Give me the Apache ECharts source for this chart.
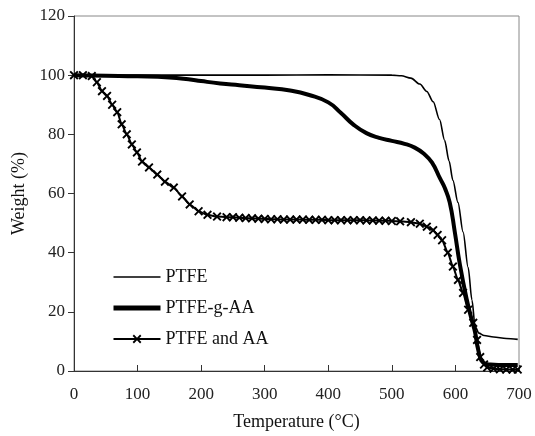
<!DOCTYPE html>
<html>
<head>
<meta charset="utf-8">
<title>TGA curves</title>
<script src="https://cdn.jsdelivr.net/npm/echarts@6/dist/echarts.min.js"></script>
<style>
  html, body { margin: 0; padding: 0; background: #fff; }
  #chart { width: 535px; height: 436px; }
</style>
</head>
<body>
<div id="chart"></div>
<script>
/* =========================================
   1. DATA
   ========================================= */
const xTicks = [0, 100, 200, 300, 400, 500, 600, 700];
const yTicks = [0, 20, 40, 60, 80, 100, 120];

// PTFE (thin line)
const ptfeTemp = [0, 100, 200, 300, 400, 500, 515, 530, 544, 555, 565, 575, 583, 590, 596, 604, 612, 620, 626, 631, 637, 645, 660, 680, 698];
const ptfeWeight = [100, 100, 100, 100, 100.1, 100, 99.8, 99, 97, 94.5, 91, 85, 78, 71, 64.5, 57, 47, 35, 24, 15, 12.8, 12, 11.5, 11, 10.7];

// PTFE-g-AA (thick line)
const graftTemp = [0, 50, 100, 150, 180, 200, 230, 260, 300, 340, 370, 400, 420, 440, 460, 480, 500, 520, 536, 550, 563, 576, 583, 591, 599, 607, 618, 626, 631, 636, 643, 655, 680, 698];
const graftWeight = [100, 99.8, 99.6, 99.2, 98.6, 98, 97.2, 96.6, 95.8, 94.8, 93.3, 90.8, 87.2, 83.2, 80.4, 78.8, 77.8, 76.8, 75.5, 73.5, 70.5, 65, 62, 57, 47, 36, 24, 17, 13, 7, 3, 2.2, 2, 2];

// PTFE and AA (line with x markers)
const mixTemp = [0, 14, 28, 36, 44, 52, 60, 68, 75, 83, 91, 99, 107, 118, 131, 143, 157, 170, 182, 196, 210, 225,
  240, 250, 260, 270, 280, 290, 300, 310, 320, 330, 340, 350, 360, 370, 380, 390, 400, 410, 420, 430, 440, 450,
  460, 470, 480, 490, 500, 513, 530, 544, 555, 565, 572, 579, 588, 596, 604, 612, 620, 628, 634, 639, 645, 650,
  660, 670, 680, 690, 698];
const mixWeight = [100, 100, 99.7, 97.6, 94.6, 93, 90, 87.5, 83.4, 80, 76.6, 73.9, 70.8, 68.8, 66.4, 64, 62, 59, 56.3, 54, 52.8, 52.2,
  52, 52, 51.8, 51.7, 51.6, 51.5, 51.4, 51.3, 51.3, 51.2, 51.2, 51.2, 51.2, 51.1, 51.1, 51.1, 51, 51, 51, 51, 51, 51,
  50.9, 50.9, 50.8, 50.8, 50.7, 50.6, 50.3, 49.8, 48.8, 47.6, 46, 44.2, 40, 35.3, 30.8, 26.4, 20.7, 16.3, 10.5, 4.7, 2.2, 1.2,
  0.8, 0.6, 0.5, 0.5, 0.5];

/* =========================================
   2. CHART
   ========================================= */
function zip(xs, ys) {
  return xs.map((x, i) => [x, ys[i]]);
}

function initChart() {
  const dom = document.getElementById("chart");
  const chart = echarts.init(dom, null, { renderer: "canvas" });

  const serif = "'Liberation Serif', 'Times New Roman', serif";
  const axisColor = "#333";
  const crossSymbol =
    "path://M0,1.5 L1.5,0 L5,3.5 L8.5,0 L10,1.5 L6.5,5 L10,8.5 L8.5,10 L5,6.5 L1.5,10 L0,8.5 L3.5,5 Z";

  const option = {
    backgroundColor: "#fff",
    animation: false,
    grid: {
      left: 74,
      right: 16,
      top: 16,
      bottom: 65,
      outerBoundsMode: "none",
      show: true,
      borderColor: "#888",
      borderWidth: 1,
    },
    legend: {
      orient: "vertical",
      left: 106,
      top: 263,
      itemWidth: 47,
      itemHeight: 11,
      itemGap: 13,
      textStyle: { fontFamily: serif, fontSize: 18, color: "#111" },
      data: [
        { name: "PTFE", itemStyle: { opacity: 0 }, lineStyle: { width: 1.6 } },
        { name: "PTFE-g-AA", itemStyle: { opacity: 0 }, lineStyle: { width: 5 } },
        { name: "PTFE and AA", lineStyle: { width: 2 } },
      ],
    },
    xAxis: {
      type: "value",
      min: xTicks[0],
      max: xTicks[xTicks.length - 1],
      interval: xTicks[1] - xTicks[0],
      name: "Temperature (°C)",
      nameLocation: "middle",
      nameGap: 42,
      nameTextStyle: { fontFamily: serif, fontSize: 18, color: "#111" },
      axisLine: { show: true, lineStyle: { color: axisColor, width: 1 } },
      axisTick: { show: true, inside: true, length: 6, lineStyle: { color: axisColor } },
      axisLabel: { fontFamily: serif, fontSize: 17, color: "#222", margin: 15 },
      splitLine: { show: false },
    },
    yAxis: {
      type: "value",
      min: yTicks[0],
      max: yTicks[yTicks.length - 1],
      interval: yTicks[1] - yTicks[0],
      name: "Weight (%)",
      nameLocation: "middle",
      nameGap: 44,
      nameTextStyle: { fontFamily: serif, fontSize: 18, color: "#111" },
      axisLine: { show: true, lineStyle: { color: axisColor, width: 1 } },
      axisTick: { show: true, inside: false, length: 6, lineStyle: { color: axisColor } },
      axisLabel: { fontFamily: serif, fontSize: 17, color: "#222", margin: 9 },
      splitLine: { show: false },
    },
    series: [
      {
        name: "PTFE",
        type: "line",
        data: zip(ptfeTemp, ptfeWeight),
        symbol: "none",
        smooth: 0.3,
        smoothMonotone: "x",
        lineStyle: { color: "#000", width: 1.6 },
        itemStyle: { color: "#000" },
        z: 3,
      },
      {
        name: "PTFE-g-AA",
        type: "line",
        data: zip(graftTemp, graftWeight),
        symbol: "none",
        smooth: 0.5,
        lineStyle: { color: "#000", width: 4 },
        itemStyle: { color: "#000" },
        z: 2,
      },
      {
        name: "PTFE and AA",
        type: "line",
        data: zip(mixTemp, mixWeight),
        symbol: crossSymbol,
        symbolSize: 9,
        showAllSymbol: true,
        smooth: 0.2,
        smoothMonotone: "x",
        lineStyle: { color: "#000", width: 2 },
        itemStyle: { color: "#000" },
        z: 4,
      },
    ],
  };

  chart.setOption(option);
}

document.addEventListener("DOMContentLoaded", initChart);
</script>
</body>
</html>
